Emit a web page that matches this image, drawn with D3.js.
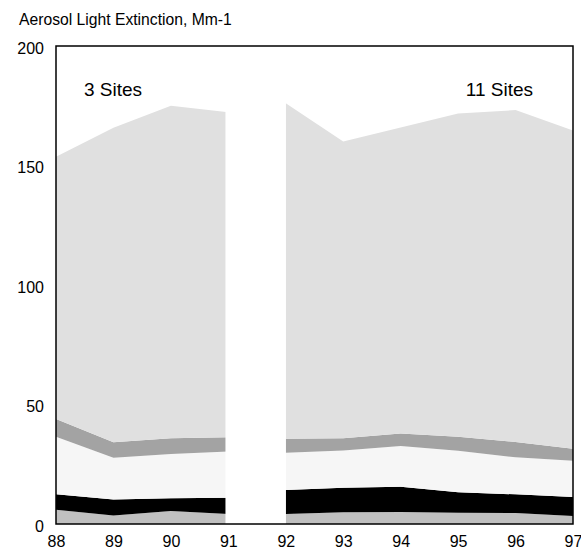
<!DOCTYPE html>
<html>
<head>
<meta charset="utf-8">
<script src="https://cdn.jsdelivr.net/npm/d3@7"></script>
<style>
  html, body { margin: 0; padding: 0; background: #fff; }
  svg text { font-family: "Liberation Sans", Arial, Helvetica, sans-serif; fill: #000; }
</style>
</head>
<body>
<svg id="chart" width="581" height="550"></svg>
<script>
// Years for the two monitoring periods (3 sites, then 11 sites)
const yearsEarly = [88, 89, 90, 91];
const yearsLate = [92, 93, 94, 95, 96, 97];
const xTicks = [88, 89, 90, 91, 92, 93, 94, 95, 96, 97];
const yTicks = [0, 50, 100, 150, 200];

// Extinction components (Mm-1), stacked bottom to top
const layerNames = ["layer1", "layer2", "layer3", "layer4", "layer5"];
const layerColors = ["#c0c0c0", "#000000", "#f6f6f6", "#a3a3a3", "#e0e0e0"];

const early = {
  layer1: [6.0, 3.6, 5.4, 4.2],
  layer2: [6.4, 6.7, 5.4, 6.8],
  layer3: [24.1, 17.4, 18.5, 19.3],
  layer4: [7.4, 6.5, 6.6, 6.0],
  layer5: [109.8, 131.6, 139.1, 136.0]
};
const late = {
  layer1: [4.2, 4.9, 5.0, 4.7, 4.6, 3.3],
  layer2: [10.0, 10.3, 10.6, 8.6, 7.8, 8.0],
  layer3: [15.6, 15.6, 17.0, 17.4, 15.5, 15.2],
  layer4: [5.9, 5.1, 5.3, 5.8, 6.4, 5.0],
  layer5: [140.3, 124.1, 128.0, 135.3, 138.9, 133.1]
};

// Break between the two periods
const gapStart = 90.95, gapEnd = 92;

const margin = { top: 46, right: 8, bottom: 26, left: 56 };
const width = 581, height = 550;
const svg = d3.select("#chart");

const x = d3.scaleLinear().domain([88, 97]).range([margin.left, width - margin.right]);
const y = d3.scaleLinear().domain([0, 200]).range([height - margin.bottom, margin.top]);

function toRows(years, vals) {
  return years.map((yr, i) => {
    const r = { year: yr };
    layerNames.forEach(k => { r[k] = vals[k][i]; });
    return r;
  });
}

const stack = d3.stack().keys(layerNames);
const area = d3.area()
  .x(d => x(d.data.year))
  .y0(d => y(d[0]))
  .y1(d => y(d[1]));

[toRows(yearsEarly, early), toRows(yearsLate, late)].forEach(rows => {
  svg.append("g")
    .selectAll("path")
    .data(stack(rows))
    .join("path")
    .attr("d", area)
    .attr("fill", (d, i) => layerColors[i]);
});

// White break band
svg.append("rect")
  .attr("x", x(gapStart))
  .attr("y", y(200))
  .attr("width", x(gapEnd) - x(gapStart))
  .attr("height", y(0) - y(200))
  .attr("fill", "#fff");

// Plot frame
svg.append("rect")
  .attr("x", x(88))
  .attr("y", y(200))
  .attr("width", x(97) - x(88))
  .attr("height", y(0) - y(200))
  .attr("fill", "none")
  .attr("stroke", "#000")
  .attr("stroke-width", 1.5);

// Axes (labels only)
const yAxis = svg.append("g")
  .attr("transform", `translate(${margin.left - 12},0)`)
  .call(d3.axisLeft(y).tickValues(yTicks).tickSize(0).tickPadding(0));
yAxis.select(".domain").remove();
yAxis.selectAll("text").attr("font-size", 16).attr("font-family", null).attr("dy", "0.44em");

const xAxis = svg.append("g")
  .attr("transform", `translate(0,${height - margin.bottom + 12})`)
  .call(d3.axisBottom(x).tickValues(xTicks).tickSize(0).tickPadding(0).tickFormat(d3.format("d")));
xAxis.select(".domain").remove();
xAxis.selectAll("text").attr("font-size", 16).attr("font-family", null);

// Title and period labels
svg.append("text")
  .attr("x", 19).attr("y", 25)
  .attr("font-size", 15.7)
  .text("Aerosol Light Extinction, Mm-1");

svg.append("text")
  .attr("x", 84).attr("y", 96)
  .attr("font-size", 19)
  .text("3 Sites");

svg.append("text")
  .attr("x", 533).attr("y", 96)
  .attr("text-anchor", "end")
  .attr("font-size", 19)
  .text("11 Sites");
</script>
</body>
</html>
